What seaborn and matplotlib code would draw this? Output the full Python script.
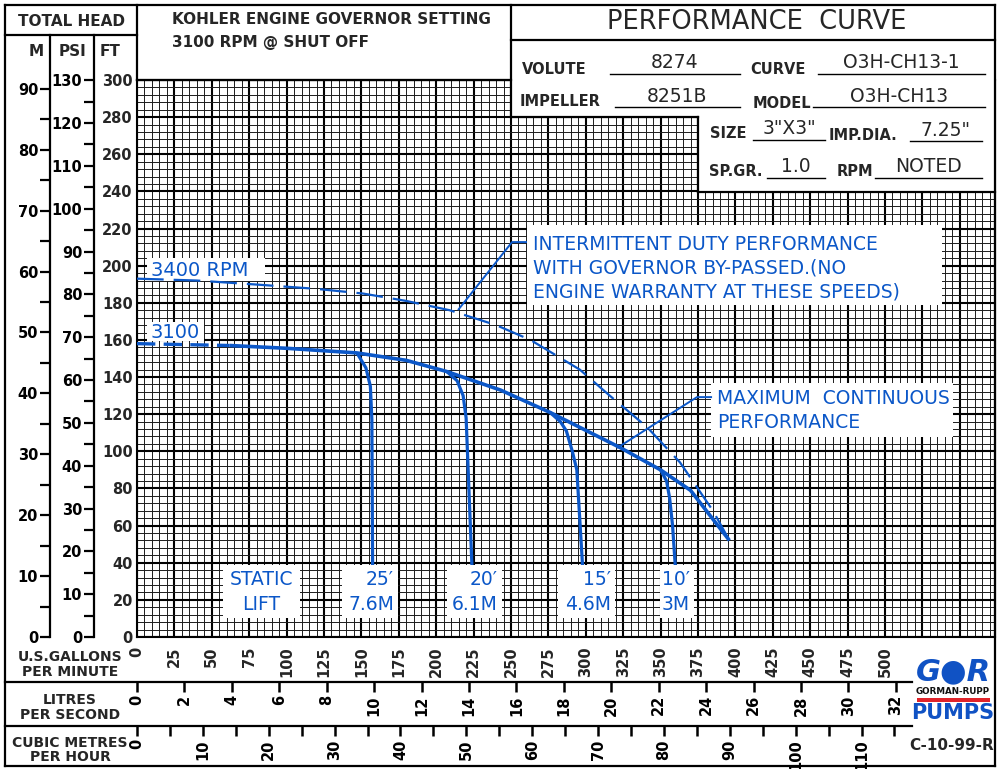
import numpy as np
import matplotlib
matplotlib.use("Agg")
import matplotlib.pyplot as plt
import seaborn as sns
from matplotlib.patches import Rectangle

# ---------------- data (US GPM vs total head in feet) ----------------
gpm_3400 = [0, 40, 84, 120, 151, 180, 209, 240, 263, 296, 316, 341, 363, 385, 396]
ft_3400 = [193, 192, 189.6, 187.5, 185, 181, 176, 168, 160, 144, 130, 113, 94, 68, 52]

gpm_3100_dash = [0, 62]
ft_3100_dash = [158, 157]
gpm_3100 = [62, 100, 147, 180, 207, 243, 276, 323, 350, 370, 396]
ft_3100 = [157, 155.5, 153, 149, 143, 133, 121, 102, 90, 79, 52]

gpm_lift25 = [147, 153, 156, 157, 157.5]
ft_lift25 = [153, 145, 135, 117, 36]
gpm_lift20 = [207, 214, 218, 220, 224]
ft_lift20 = [143, 138, 130, 118, 36]
gpm_lift15 = [276, 283, 287, 291, 294, 298]
ft_lift15 = [121, 116, 111, 100, 90, 36]
gpm_lift10 = [350, 354, 356, 358, 360]
ft_lift10 = [90, 84, 75, 60, 36]

leader_int_gpm = [260.7, 250.7, 214.6]
leader_int_ft = [212.7, 212.7, 176.1]
leader_max_gpm = [384.4, 374.3, 320.9]
leader_max_ft = [129.2, 129.2, 101.8]

gpm_ticks = list(range(0, 551, 25))
ft_ticks = list(range(0, 301, 20))
m_ticks = list(range(0, 91, 10))
psi_ticks = list(range(0, 131, 10))
lps_ticks = list(range(0, 33, 2))
cmh_ticks = list(range(0, 116, 5))

lift_labels = ["STATIC\nLIFT", "25\u2032\n7.6M", "20\u2032\n6.1M", "15\u2032\n4.6M", "10\u2032\n3M"]

# ---------------- figure setup ----------------
sns.set_theme(style="white")
plt.rcParams["font.family"] = ["DejaVu Sans"]
BLUE = "#0b57c8"
W, H = 1000, 769
fig = plt.figure(figsize=(10, 7.69), dpi=100)


def fx(x):
    return x / W


def fy(y):
    return 1 - y / H


X0, X1, Y0, Y1 = 137, 995, 80, 637
GPM_MAX = (X1 - X0) / 1.496
FT_MAX = 300

ax = fig.add_axes([fx(X0), fy(Y1), fx(X1) - fx(X0), fy(Y0) - fy(Y1)])
ax.set_xlim(0, GPM_MAX)
ax.set_ylim(0, FT_MAX)
ax.set_xticks(gpm_ticks, labels=[str(v) if v <= 500 else "" for v in gpm_ticks])
ax.set_xticks(np.arange(0, GPM_MAX, 5), minor=True)
ax.set_yticks(ft_ticks, labels=[str(v) for v in ft_ticks])
ax.set_yticks(np.arange(0, 301, 4), minor=True)
ax.tick_params(which="both", length=0)
ax.tick_params(axis="x", labelrotation=90, pad=7, labelsize=10.5)
ax.tick_params(axis="y", pad=3, labelsize=10.5)
for t in ax.get_xticklabels() + ax.get_yticklabels():
    t.set_fontweight("bold")
ax.set_axisbelow(True)
ax.grid(True, which="major", color="black", lw=1.5)
ax.grid(True, which="minor", color="#1c1c1c", lw=0.7)
for s in ax.spines.values():
    s.set_visible(True)
    s.set_color("black")
    s.set_linewidth(1.5)

# overlay in pixel coordinates
ov = fig.add_axes([0, 0, 1, 1], zorder=5)
ov.set_xlim(0, W)
ov.set_ylim(H, 0)
ov.axis("off")
PX = ov.transData

# ---------------- curves ----------------
def curve(x, y, lw, dashes=None, z=3):
    sns.lineplot(x=x, y=y, ax=ax, sort=False, estimator=None, color=BLUE, lw=lw,
                 zorder=z, legend=False)
    ln = ax.lines[-1]
    ln.set_solid_capstyle("butt")
    if dashes is not None:
        ln.set_dashes(dashes)


curve(gpm_3400, ft_3400, 1.6, dashes=[12, 4.5])
curve(gpm_3100_dash, ft_3100_dash, 2.4, dashes=[5.5, 2.5])
curve(gpm_3100, ft_3100, 2.6)
for gx, gy in [(gpm_lift25, ft_lift25), (gpm_lift20, ft_lift20),
               (gpm_lift15, ft_lift15), (gpm_lift10, ft_lift10)]:
    curve(gx, gy, 2.3)
curve(leader_int_gpm, leader_int_ft, 1.4)
curve(leader_max_gpm, leader_max_ft, 1.4)

# ---------------- labels on the chart ----------------
def wbox(x0, y0, x1, y1, z=2.5):
    ax.add_patch(Rectangle((x0, y0), x1 - x0, y1 - y0, transform=PX, fc="white",
                           ec="none", zorder=z, clip_on=False))


wbox(147, 258, 265, 281)
ax.text(151, 270, "3400 RPM", transform=PX, color=BLUE, fontsize=14, va="center",
        ha="left", zorder=2.6)
wbox(147, 322, 204, 341)
ax.text(151, 332, "3100", transform=PX, color=BLUE, fontsize=14, va="center",
        ha="left", zorder=2.6)

wbox(527, 225, 942, 305)
ax.text(533, 244, "INTERMITTENT DUTY PERFORMANCE", transform=PX, color=BLUE,
        fontsize=13.5, va="center", zorder=2.6)
ax.text(533, 268, "WITH GOVERNOR BY-PASSED.(NO", transform=PX, color=BLUE,
        fontsize=13.5, va="center", zorder=2.6)
ax.text(533, 292, "ENGINE WARRANTY AT THESE SPEEDS)", transform=PX, color=BLUE,
        fontsize=13.5, va="center", zorder=2.6)

wbox(711, 383, 953, 437)
ax.text(717, 399, "MAXIMUM  CONTINUOUS", transform=PX, color=BLUE, fontsize=13.5,
        va="center", zorder=2.6)
ax.text(717, 423, "PERFORMANCE", transform=PX, color=BLUE, fontsize=13.5,
        va="center", zorder=2.6)

lift_boxes = [(223, 300, "center"), (342, 398, "right"), (447, 502, "right"),
              (558, 615, "right"), (660, 694, "right")]
for (bx0, bx1, al), lab in zip(lift_boxes, lift_labels):
    wbox(bx0, 565, bx1, 618, z=4)
    tx = (bx0 + bx1) / 2 if al == "center" else bx1 - 4
    ax.text(tx, 592, lab, transform=PX, color=BLUE, fontsize=13.5, va="center",
            ha=al, multialignment=al, linespacing=1.45, zorder=4.1)

# ---------------- secondary head scales ----------------
def head_axis(xpix, top_val, ticks, minor):
    a = fig.add_axes([fx(xpix), fy(Y1), 1e-4, fy(Y0) - fy(Y1)])
    a.set_ylim(0, top_val)
    a.set_yticks(ticks, labels=[str(v) for v in ticks])
    a.set_yticks(minor, minor=True)
    a.set_xticks([])
    a.tick_params(axis="y", which="both", left=True, right=False, direction="out",
                  length=7, width=1.6, pad=1.5, labelsize=10.5, colors="black")
    for t in a.get_yticklabels():
        t.set_fontweight("bold")
    for s in a.spines.values():
        s.set_visible(False)
    a.patch.set_visible(False)
    return a


head_axis(50, FT_MAX * 0.3048, m_ticks, list(range(5, 91, 10)))
head_axis(94, FT_MAX / 2.3067, psi_ticks, list(range(5, 131, 10)))

# ---------------- flow scales ----------------
def flow_axis(ypix, factor, ticks, labels):
    a = fig.add_axes([fx(X0), fy(ypix), fx(X1) - fx(X0), 1e-4])
    a.set_xlim(0, GPM_MAX / factor)
    a.set_xticks(ticks, labels=labels)
    a.set_yticks([])
    a.tick_params(axis="x", bottom=True, top=False, direction="out", length=7,
                  width=1.8, pad=2.5, labelrotation=90, labelsize=10.5,
                  colors="black")
    for t in a.get_xticklabels():
        t.set_fontweight("bold")
    for s in a.spines.values():
        s.set_visible(False)
    a.patch.set_visible(False)
    return a


flow_axis(682, 15.8503, lps_ticks, [str(v) for v in lps_ticks])
flow_axis(726, 4.4029, cmh_ticks, [str(v) if v % 10 == 0 else "" for v in cmh_ticks])

# ---------------- frame, boxes and header texts ----------------
ov.add_patch(Rectangle((511, 5), 484, 112, fc="white", ec="none"))
ov.add_patch(Rectangle((698, 100), 297, 92, fc="white", ec="none"))

LW = 1.6


def hl(y, x0, x1, lw=LW):
    ov.plot([x0, x1], [y, y], color="black", lw=lw, solid_capstyle="projecting")


def vl(x, y0, y1, lw=LW):
    ov.plot([x, x], [y0, y1], color="black", lw=lw, solid_capstyle="projecting")


hl(5, 5, 995)
hl(766, 5, 995)
vl(5, 5, 766)
vl(995, 5, 766)
hl(35, 5, 137)
vl(137, 5, 80)
vl(50, 35, 637)
vl(94, 35, 637)
hl(80, 137, 511)
vl(511, 5, 117)
hl(40, 511, 995)
hl(117, 511, 698)
vl(698, 117, 192)
hl(192, 698, 995)
hl(682, 5, 912)
hl(726, 5, 912)

ov.text(71, 21, "TOTAL HEAD", ha="center", va="center", fontsize=11, fontweight="bold")
ov.text(36, 52, "M", ha="center", va="center", fontsize=11, fontweight="bold")
ov.text(72, 51, "PSI", ha="center", va="center", fontsize=11, fontweight="bold")
ov.text(110, 52, "FT", ha="center", va="center", fontsize=11, fontweight="bold")
ov.text(172, 20, "KOHLER ENGINE GOVERNOR SETTING", ha="left", va="center", fontsize=11,
        fontweight="bold")
ov.text(172, 43, "3100 RPM @ SHUT OFF", ha="left", va="center", fontsize=11,
        fontweight="bold")
ov.text(757, 22, "PERFORMANCE  CURVE", ha="center", va="center", fontsize=18.5)

fields = [
    ("VOLUTE", 522, 70, "8274", 610, 740, 74),
    ("CURVE", 750, 70, "O3H-CH13-1", 818, 985, 74),
    ("IMPELLER", 520, 101, "8251B", 615, 740, 107),
    ("MODEL", 753, 103, "O3H-CH13", 813, 985, 107),
    ("SIZE", 710, 134, "3\"X3\"", 753, 825, 140),
    ("IMP.DIA.", 829, 135, "7.25\"", 910, 982, 141),
    ("SP.GR.", 709, 172, "1.0", 767, 825, 178),
    ("RPM", 837, 172, "NOTED", 875, 982, 178),
]
for lab, lx, ly, val, u0, u1, uy in fields:
    ov.text(lx, ly, lab, ha="left", va="center", fontsize=10.5, fontweight="bold")
    ov.text((u0 + u1) / 2, uy - 11, val, ha="center", va="center", fontsize=13.5)
    hl(uy, u0, u1, lw=1.0)

ov.text(70, 657, "U.S.GALLONS", ha="center", va="center", fontsize=10, fontweight="bold")
ov.text(70, 672, "PER MINUTE", ha="center", va="center", fontsize=10, fontweight="bold")
ov.text(70, 700, "LITRES", ha="center", va="center", fontsize=10, fontweight="bold")
ov.text(70, 715, "PER SECOND", ha="center", va="center", fontsize=10, fontweight="bold")
ov.text(70, 743, "CUBIC METRES", ha="center", va="center", fontsize=10, fontweight="bold")
ov.text(70, 757, "PER HOUR", ha="center", va="center", fontsize=10, fontweight="bold")

# logo
ov.text(953, 672, "G\u25CFR", ha="center", va="center", fontsize=22, fontweight="bold",
        color="#1052c4", fontstyle="italic")
ov.text(953, 692, "GORMAN-RUPP", ha="center", va="center", fontsize=6.3,
        fontweight="bold", color="#111111")
ov.add_patch(Rectangle((917, 698), 73, 4, fc="#e0242b", ec="none"))
ov.text(953, 713, "PUMPS", ha="center", va="center", fontsize=15, fontweight="bold",
        color="#1052c4")
ov.text(952, 745, "C-10-99-R", ha="center", va="center", fontsize=11, fontweight="bold")

fig.savefig("out.png", dpi=100, facecolor="white")
